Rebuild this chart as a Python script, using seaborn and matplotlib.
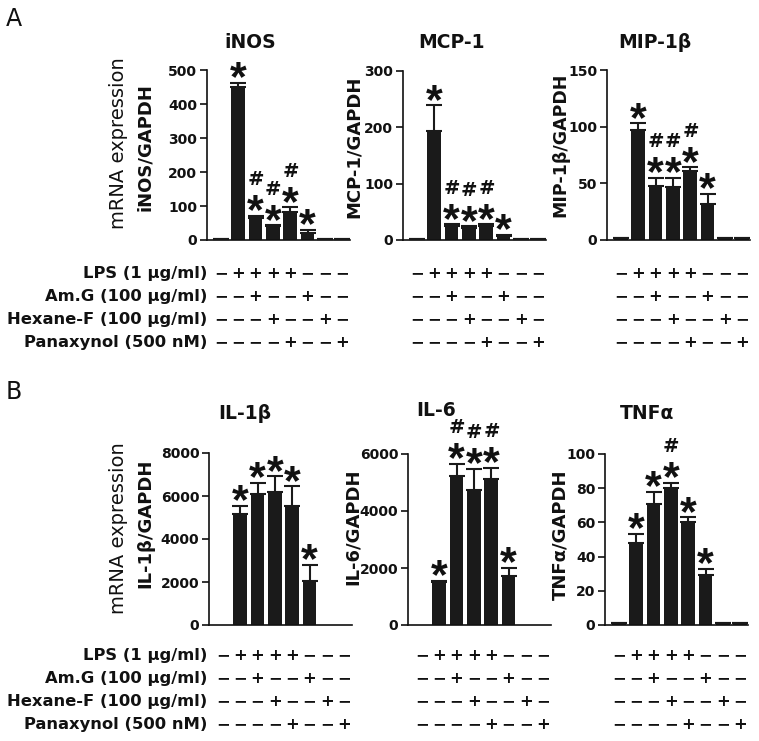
import numpy as np
import pandas as pd
import matplotlib
matplotlib.use("Agg")
import matplotlib.pyplot as plt
import seaborn as sns
from matplotlib.transforms import blended_transform_factory

# ---------------- data ----------------
conditions = list(range(8))
row_labels = ["LPS (1 µg/ml)", "Am.G (100 µg/ml)", "Hexane-F (100 µg/ml)", "Panaxynol (500 nM)"]
lps_row = ["−", "+", "+", "+", "+", "−", "−", "−"]
amg_row = ["−", "−", "+", "−", "−", "+", "−", "−"]
hex_row = ["−", "−", "−", "+", "−", "−", "+", "−"]
pan_row = ["−", "−", "−", "−", "+", "−", "−", "+"]

inos_vals = [3, 450, 66, 40, 81, 21, 2, 2]
inos_err = [1, 12, 5, 3, 15, 8, 0.5, 0.5]
mcp_vals = [2, 194, 25, 22, 25, 7, 1, 1.5]
mcp_err = [0.5, 45, 3, 2, 3, 2, 0.3, 0.3]
mip_vals = [1.5, 97, 48, 47, 61, 32, 1.5, 1.5]
mip_err = [0.3, 6, 7, 8, 3, 9, 0.3, 0.3]
il1b_vals = [0, 5150, 6100, 6170, 5550, 2050, 0, 0]
il1b_err = [0, 380, 500, 750, 900, 750, 0, 0]
il6_vals = [0, 1500, 5240, 4720, 5120, 1720, 0, 0]
il6_err = [0, 50, 410, 760, 390, 290, 0, 0]
tnf_vals = [1, 48, 71, 80, 60.5, 29, 1, 1]
tnf_err = [0.2, 5.5, 7, 3, 2.4, 4, 0.2, 0.2]

stars_std = [0, 1, 1, 1, 1, 1, 0, 0]
hash_std = [0, 0, 1, 1, 1, 0, 0, 0]
hash_none = [0, 0, 0, 0, 0, 0, 0, 0]
hash_tnf = [0, 0, 0, 1, 0, 0, 0, 0]

inos_ticks = [0, 100, 200, 300, 400, 500]
mcp_ticks = [0, 100, 200, 300]
mip_ticks = [0, 50, 100, 150]
il1b_ticks = [0, 2000, 4000, 6000, 8000]
il6_ticks = [0, 2000, 4000, 6000]
tnf_ticks = [0, 20, 40, 60, 80, 100]

# ---------------- style ----------------
sns.set_theme(style="ticks", rc={
    "axes.edgecolor": "#111111", "text.color": "#111111",
    "xtick.color": "#111111", "ytick.color": "#111111",
    "axes.linewidth": 1.2,
})
plt.rcParams["font.family"] = ["DejaVu Sans"]
plt.rcParams["font.weight"] = "bold"
plt.rcParams["mathtext.fontset"] = "custom"
plt.rcParams["mathtext.rm"] = "DejaVu Sans:bold"
plt.rcParams["mathtext.bf"] = "Liberation Sans:bold"

W, H = 759, 741
fig = plt.figure(figsize=(W / 100, H / 100), dpi=100)


def fx(x):
    return x / W


def fy(y):
    return 1 - y / H


BAR = "#1a1a1a"
STAR = r"$\mathbf{*}$"
HASH = r"$\mathrm{\#}$"

panels = [
    dict(vals=inos_vals, err=inos_err, stars=stars_std, hashes=hash_std, ticks=inos_ticks,
         left=207, top=70, bottom=240, title="iNOS", tx=250, tb=48,
         ylabel="iNOS/GAPDH", lx=145, ly=147),
    dict(vals=mcp_vals, err=mcp_err, stars=stars_std, hashes=hash_std, ticks=mcp_ticks,
         left=403, top=71, bottom=240, title="MCP-1", tx=451, tb=48,
         ylabel="MCP-1/GAPDH", lx=354, ly=147),
    dict(vals=mip_vals, err=mip_err, stars=stars_std, hashes=hash_std, ticks=mip_ticks,
         left=607, top=70, bottom=240, title="MIP-1β", tx=655, tb=48,
         ylabel="MIP-1β/GAPDH", lx=560, ly=145),
    dict(vals=il1b_vals, err=il1b_err, stars=stars_std, hashes=hash_none, ticks=il1b_ticks,
         left=209, top=453, bottom=625, title="IL-1β", tx=245, tb=419,
         ylabel="IL-1β/GAPDH", lx=145, ly=523),
    dict(vals=il6_vals, err=il6_err, stars=stars_std, hashes=hash_std, ticks=il6_ticks,
         left=408, top=454, bottom=625, title="IL-6", tx=436, tb=416,
         ylabel="IL-6/GAPDH", lx=353, ly=527),
    dict(vals=tnf_vals, err=tnf_err, stars=stars_std, hashes=hash_tnf, ticks=tnf_ticks,
         left=605, top=454, bottom=625, title="TNFα", tx=647, tb=419,
         ylabel="TNFα/GAPDH", lx=560, ly=535),
]

AX_W = 143
rows = [lps_row, amg_row, hex_row, pan_row]
row_y_A = [272, 295, 318, 341]
row_y_B = [654, 677, 700, 723]

for k, p in enumerate(panels):
    ax = fig.add_axes([fx(p["left"]), fy(p["bottom"]), AX_W / W, (p["bottom"] - p["top"]) / H])
    df = pd.DataFrame({"cond": conditions, "value": p["vals"]})
    sns.barplot(data=df, x="cond", y="value", color=BAR, saturation=1, width=0.8,
                errorbar=None, ax=ax, zorder=2, linewidth=0, edgecolor=BAR)
    x = np.arange(len(conditions))
    v = np.array(p["vals"], float)
    e = np.array(p["err"], float)
    m = e > 0
    ax.errorbar(x[m], v[m], yerr=[np.zeros(m.sum()), e[m]], fmt="none", ecolor=BAR,
                elinewidth=1.5, capsize=5.5, capthick=1.5, zorder=3)
    ax.set_xlim(-0.8, 7.45)
    ax.set_ylim(0, p["ticks"][-1])
    ax.set_yticks(p["ticks"])
    ax.set_xticks([])
    ax.set_xlabel("")
    ax.set_ylabel("")
    ax.tick_params(axis="y", labelsize=10, length=5, width=1.2, pad=2)
    for lab in ax.get_yticklabels():
        lab.set_fontweight("bold")
    sns.despine(ax=ax)

    for i in range(len(conditions)):
        top = v[i] + e[i]
        if p["stars"][i]:
            ax.annotate(STAR, xy=(i, top), xytext=(0, 4), textcoords="offset points",
                        ha="center", va="center", fontsize=31,
                        annotation_clip=False)
        if p["hashes"][i]:
            ax.annotate(HASH, xy=(i, top), xytext=(0, 26), textcoords="offset points",
                        ha="center", va="center", fontsize=14,
                        annotation_clip=False)

    fig.text(fx(p["tx"]), fy(p["tb"]), p["title"], ha="center", va="baseline",
             fontsize=13.5, fontweight="bold")
    fig.text(fx(p["lx"]), fy(p["ly"]), p["ylabel"], ha="center", va="center",
             rotation=90, fontsize=13 if k != 2 else 12.5, fontweight="bold")

    # condition table
    tr = blended_transform_factory(ax.transData, fig.transFigure)
    ry = row_y_A if k < 3 else row_y_B
    for r, row in enumerate(rows):
        for i, s in enumerate(row):
            ax.text(i, fy(ry[r] + 6), s, transform=tr, ha="center", va="baseline",
                    fontsize=11.8, fontweight="bold", clip_on=False)
        if k in (0, 3):
            fig.text(fx(207), fy(ry[r] + 6), row_labels[r], ha="right", va="baseline",
                     fontsize=11.8, fontweight="bold")

# mRNA expression labels
fig.text(fx(118), fy(143), "mRNA expression", ha="center", va="center", rotation=90,
         fontsize=14, fontweight="normal")
fig.text(fx(118), fy(528), "mRNA expression", ha="center", va="center", rotation=90,
         fontsize=14, fontweight="normal")

# panel letters
fig.text(fx(6), fy(26), "A", ha="left", va="baseline", fontsize=17, fontweight="normal")
fig.text(fx(6), fy(399), "B", ha="left", va="baseline", fontsize=17, fontweight="normal")

fig.savefig("out.png", dpi=100)
